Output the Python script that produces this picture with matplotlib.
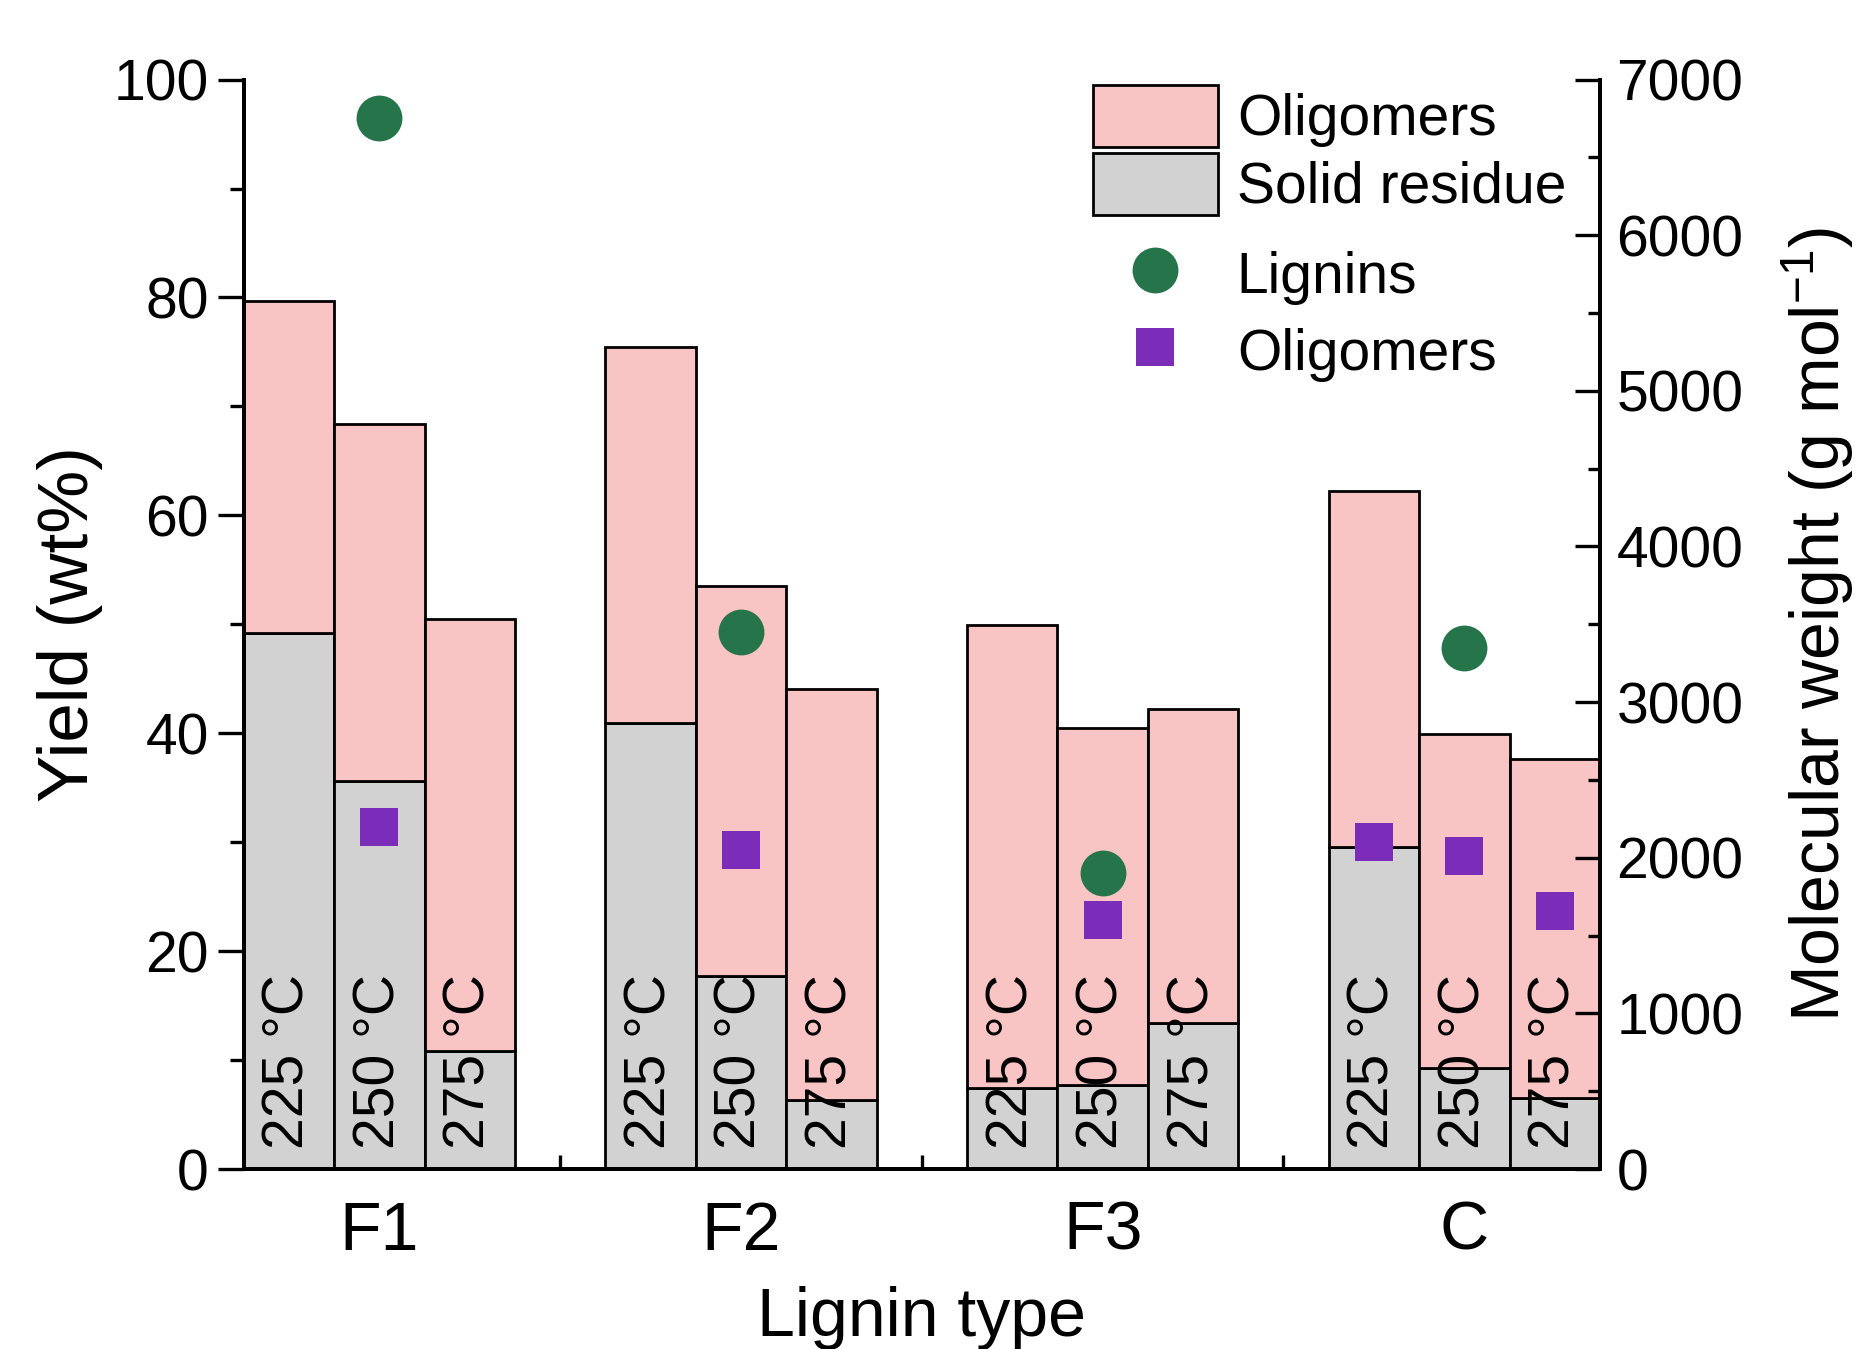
import numpy as np
import matplotlib
matplotlib.use("Agg")
import matplotlib.pyplot as plt
from matplotlib.ticker import MultipleLocator, FixedLocator
from matplotlib.lines import Line2D
from matplotlib.patches import Patch

plt.rcParams["font.family"] = ["Liberation Sans", "DejaVu Sans"]

lignin_types = ["F1", "F2", "F3", "C"]
temps = ["225 °C", "250 °C", "275 °C"]

# yields in wt%, one row per lignin type, columns = 225/250/275 °C
residue_yield = [
    [49.2, 35.6, 10.8],
    [40.9, 17.7, 6.3],
    [7.4, 7.7, 13.4],
    [29.6, 9.3, 6.5],
]
oligomer_yield = [
    [30.5, 32.8, 39.7],
    [34.6, 35.8, 37.8],
    [42.5, 32.8, 28.8],
    [32.6, 30.6, 31.1],
]

# molecular weights (g/mol)
lignin_mw = [6755, 3450, 1900, 3350]
olig_mw_type = [0, 1, 2, 3, 3, 3]
olig_mw_temp = [1, 1, 1, 0, 1, 2]
olig_mw = [2200, 2050, 1600, 2100, 2010, 1655]

PINK = "#f9c4c4"
GRAY = "#d2d2d2"
GREEN = "#25744a"
PURPLE = "#7b2db9"
BW = 0.25
FS = 41

fig = plt.figure(figsize=(18.63, 13.49), dpi=100)
ax = fig.add_axes([0.1308, 0.1334, 0.728, 0.8076])
ax2 = ax.twinx()

for i in range(len(lignin_types)):
    for t in range(len(temps)):
        x = i + (t - 1) * BW
        ax.bar(x, residue_yield[i][t], width=BW, color=GRAY, edgecolor="black",
               linewidth=2.0, zorder=2)
        ax.bar(x, oligomer_yield[i][t], bottom=residue_yield[i][t], width=BW,
               color=PINK, edgecolor="black", linewidth=2.0, zorder=2)
        ax.text(x, 1.8, temps[t], rotation=90, ha="center", va="bottom",
                fontsize=FS, zorder=3)

ax2.plot(range(len(lignin_types)), lignin_mw, "o", color=GREEN, markersize=33,
         markeredgewidth=0, zorder=5)
ax2.plot([i + (t - 1) * BW for i, t in zip(olig_mw_type, olig_mw_temp)], olig_mw,
         "s", color=PURPLE, markersize=28, markeredgewidth=0, zorder=5)

ax.set_xlim(-0.375, 3.375)
ax.set_ylim(0, 100)
ax2.set_ylim(0, 7000)

ax.set_xticks(range(len(lignin_types)))
ax.set_xticklabels(lignin_types, fontsize=49)
ax.xaxis.set_minor_locator(FixedLocator(np.arange(-0.25, 3.3, 0.25)))
ax.tick_params(axis="x", which="both", direction="in", length=10, width=2.4, pad=22)

ax.yaxis.set_major_locator(MultipleLocator(20))
ax.yaxis.set_minor_locator(MultipleLocator(10))
ax.tick_params(axis="y", which="major", direction="out", length=19, width=2.4,
               labelsize=FS, pad=6)
ax.tick_params(axis="y", which="minor", direction="out", length=10, width=2.4)

ax2.yaxis.set_major_locator(MultipleLocator(1000))
ax2.yaxis.set_minor_locator(MultipleLocator(500))
ax2.tick_params(axis="y", which="major", direction="in", length=18, width=2.4,
                labelsize=FS, pad=12)
ax2.tick_params(axis="y", which="minor", direction="in", length=9, width=2.4)

for a in (ax, ax2):
    a.spines["top"].set_visible(False)
    for s in ("left", "right", "bottom"):
        a.spines[s].set_linewidth(2.8)

ax.set_xlabel("Lignin type", fontsize=49, labelpad=16)
ax.set_ylabel("Yield (wt%)", fontsize=51, labelpad=8)
ax2.set_ylabel("Molecular weight (g mol$^{\\mathregular{-1}}$)", fontsize=49,
               labelpad=26)

bar_handles = [
    Patch(facecolor=PINK, edgecolor="black", linewidth=2.0),
    Patch(facecolor=GRAY, edgecolor="black", linewidth=2.0),
]
mark_handles = [
    Line2D([], [], marker="o", ls="none", color=GREEN, markersize=33, markeredgewidth=0),
    Line2D([], [], marker="s", ls="none", color=PURPLE, markersize=28, markeredgewidth=0),
]
leg1 = ax2.legend(bar_handles, ["Oligomers", "Solid residue"], loc="upper left",
                  bbox_to_anchor=(0.626, 0.995), frameon=False, fontsize=FS,
                  handlelength=2.2, handleheight=1.3, labelspacing=0.1,
                  handletextpad=0.33, borderaxespad=0, borderpad=0)
ax2.add_artist(leg1)
ax2.legend(mark_handles, ["Lignins", "Oligomers"], loc="upper left",
           bbox_to_anchor=(0.626, 0.847), frameon=False, fontsize=FS,
           handlelength=2.2, handleheight=1.1, labelspacing=0.33,
           handletextpad=0.33, borderaxespad=0, borderpad=0)

fig.savefig("out.png", dpi=100)
